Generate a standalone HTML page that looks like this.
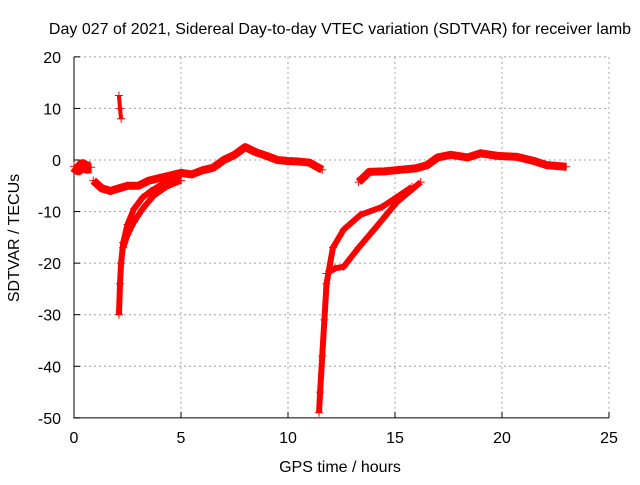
<!DOCTYPE html>
<html><head><meta charset="utf-8"><style>
body{margin:0;background:#fff;width:640px;height:480px;overflow:hidden}
text{font-family:"Liberation Sans",sans-serif;font-size:16px;fill:#000}
</style></head><body>
<svg id="chart" width="640" height="480" xmlns="http://www.w3.org/2000/svg">
<text x="340" y="34" text-anchor="middle">Day 027 of 2021, Sidereal Day-to-day VTEC variation (SDTVAR) for receiver lamb</text>
<g id="grid"></g>
<g id="axes"></g>
<g id="series"></g>
<text x="340" y="472" text-anchor="middle">GPS time / hours</text>
<text transform="translate(19,238) rotate(-90)" text-anchor="middle">SDTVAR / TECUs</text>
</svg>
<script>
const xTicks=[0,5,10,15,20,25];
const yTicks=[20,10,0,-10,-20,-30,-40,-50];
const startBlobT=[0,0.2,0.4,0.6,0.8];
const startBlobV=[-1.2,-1.8,-1,-1.5,-1.4];
const spikeT=[2.1,2.15,2.2];
const spikeV=[12.5,10,8];
const mainBandT=[0.9,1.3,1.7,2.1,2.5,3,3.5,4,4.5,5,5.5,6,6.5,7,7.5,8,8.5,9,9.5,10,10.5,11,11.6];
const mainBandV=[-4,-5.5,-6,-5.5,-5,-5,-4,-3.5,-3,-2.5,-2.8,-2,-1.5,0,1,2.5,1.5,0.8,0,-0.2,-0.3,-0.5,-1.9];
const dip1aT=[2.1,2.15,2.2,2.3,2.5,2.8,3.2,3.6,4.2,5];
const dip1aV=[-30,-24,-20,-16,-12.5,-9.5,-7.3,-6,-4.5,-3];
const dip1bT=[2.3,2.5,2.8,3.2,3.7,4.3,5];
const dip1bV=[-17,-14.5,-12,-9.5,-7,-5.2,-4];
const dip2aT=[11.45,11.5,11.6,11.7,11.8,12.1,12.6,13.4,14.4,15.8];
const dip2aV=[-49,-45,-38,-31,-24,-17,-13.5,-10.6,-9.1,-5.2];
const dip2bT=[11.8,12.2,12.6,13.3,14,15.1,16.2];
const dip2bV=[-22,-21,-20.7,-17,-13.6,-8.1,-4.3];
const lateBandT=[13.3,13.8,14.5,15,16,16.5,17,17.6,18.4,19,19.8,20.7,21.5,22.1,23];
const lateBandV=[-4.3,-2.3,-2.2,-2,-1.6,-1,0.5,1,0.5,1.3,0.8,0.6,-0.2,-1,-1.3];

const NS="http://www.w3.org/2000/svg";
const X=t=>74+t*21.4;
const Y=v=>160-v*5.157;
function mk(tag,parent){const e=document.createElementNS(NS,tag);parent.appendChild(e);return e;}
const grid=document.getElementById('grid'),axes=document.getElementById('axes'),ser=document.getElementById('series');
xTicks.forEach(t=>{
  if(t>0){const l=mk('line',grid);
  
  
  l.setAttribute('x1',X(t));l.setAttribute('x2',X(t));l.setAttribute('y1',Y(20));l.setAttribute('y2',Y(-50));
  l.setAttribute('stroke','#a0a0a0');l.setAttribute('stroke-dasharray','2,3');}
  const tk=mk('line',axes);
  
  
  tk.setAttribute('x1',X(t));tk.setAttribute('x2',X(t));tk.setAttribute('y1',Y(-50));tk.setAttribute('y2',Y(-50)-6);tk.setAttribute('stroke','#000');
  const tx=mk('text',axes);
  
  
  tx.setAttribute('x',X(t));tx.setAttribute('y',443);tx.setAttribute('text-anchor','middle');tx.textContent=t;
});
yTicks.forEach(v=>{
  if(v>-50){const l=mk('line',grid);
  
  
  l.setAttribute('x1',X(0));l.setAttribute('x2',X(25));l.setAttribute('y1',Y(v));l.setAttribute('y2',Y(v));
  l.setAttribute('stroke','#a0a0a0');l.setAttribute('stroke-dasharray','2,3');}
  const tk=mk('line',axes);
  
  
  tk.setAttribute('x1',X(0));tk.setAttribute('x2',X(0)+6);tk.setAttribute('y1',Y(v));tk.setAttribute('y2',Y(v));tk.setAttribute('stroke','#000');
  const tx=mk('text',axes);
  
  
  tx.setAttribute('x',61);tx.setAttribute('y',Y(v)+6);tx.setAttribute('text-anchor','end');tx.textContent=v;
});
const la=mk('path',axes);


la.setAttribute('d',`M${X(0)},${Y(20)}V${Y(-50)}H${X(25)}`);la.setAttribute('stroke','#000');la.setAttribute('fill','none');
function draw(T,V,name,w){
  const p=mk('polyline',ser);
  
  
  p.setAttribute('points',T.map((t,i)=>X(t)+','+Y(V[i])).join(' '));
  p.setAttribute('fill','none');p.setAttribute('stroke','#f00');p.setAttribute('stroke-width',w);p.setAttribute('stroke-linejoin','round');
  T.forEach((t,i)=>{const m=mk('path',ser);
    
    
    const x=X(t),y=Y(V[i]);m.setAttribute('d',`M${x-4},${y}H${x+4}M${x},${y-4}V${y+4}`);m.setAttribute('stroke','#f00');});
}
draw(startBlobT,startBlobV,'series-start-blob',12);
draw(spikeT,spikeV,'series-spike',4);
draw(mainBandT,mainBandV,'series-main-band',8);
draw(dip1aT,dip1aV,'series-dip1-a',6);
draw(dip1bT,dip1bV,'series-dip1-b',6);
draw(dip2aT,dip2aV,'series-dip2-a',6);
draw(dip2bT,dip2bV,'series-dip2-b',6);
draw(lateBandT,lateBandV,'series-late-band',8);
</script>
</body></html>
